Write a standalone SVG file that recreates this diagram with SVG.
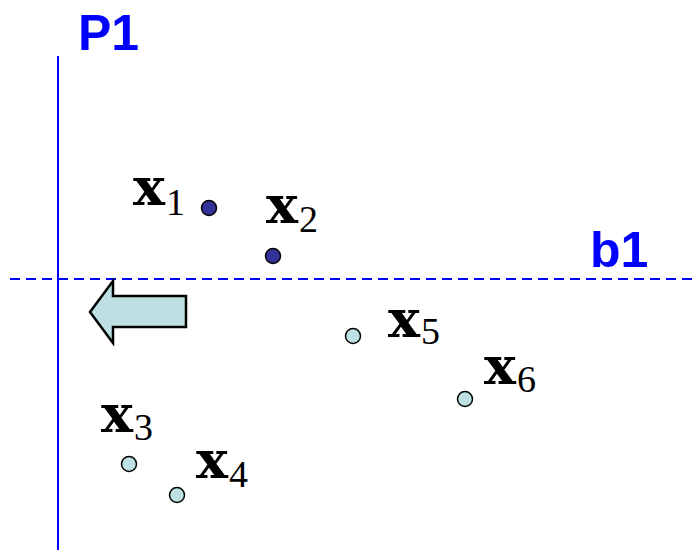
<svg xmlns="http://www.w3.org/2000/svg" width="696" height="550" viewBox="0 0 696 550">
<style>
.lbl{font-family:"Liberation Sans",Arial,sans-serif;font-weight:bold;font-size:50px;fill:#0000ff}
.v{font-family:"DejaVu Serif","Liberation Serif",serif;font-weight:bold;font-size:52px;fill:#000}
.s{font-family:"Liberation Serif",serif;font-size:38px;fill:#000}
.dk{fill:#333399;stroke:#000;stroke-width:1.5}
.lt{fill:#bde0e2;stroke:#000;stroke-width:1.5}
</style>
<rect width="696" height="550" fill="#fff"/>
<g id="connectors">
<line x1="58" y1="56" x2="58" y2="550" stroke="#0000ff" stroke-width="2"/>
<line x1="10" y1="279" x2="696" y2="279" stroke="#0000ff" stroke-width="2" stroke-dasharray="10,6"/>
</g>
<g id="P1"><text class="lbl" x="78" y="50">P1</text></g>
<g id="b1"><text class="lbl" x="590" y="267">b1</text></g>
<g id="arrow"><polygon points="90,312 113,281 113,296 186,296 186,327 113,327 113,343" fill="#bde0e2" stroke="#000" stroke-width="2.5"/></g>
<g id="x1"><circle class="dk" cx="209" cy="208" r="7.5"/><text class="v" x="133" y="205" textLength="32" lengthAdjust="spacingAndGlyphs">x</text><text class="s" x="166" y="215">1</text></g>
<g id="x2"><circle class="dk" cx="273" cy="256" r="7.5"/><text class="v" x="266" y="223" textLength="32" lengthAdjust="spacingAndGlyphs">x</text><text class="s" x="299" y="232">2</text></g>
<g id="x3"><circle class="lt" cx="129" cy="464" r="7.5"/><text class="v" x="101" y="432" textLength="32" lengthAdjust="spacingAndGlyphs">x</text><text class="s" x="134" y="440">3</text></g>
<g id="x4"><circle class="lt" cx="177" cy="495" r="7.5"/><text class="v" x="196" y="478" textLength="32" lengthAdjust="spacingAndGlyphs">x</text><text class="s" x="229" y="487">4</text></g>
<g id="x5"><circle class="lt" cx="353" cy="336" r="7.5"/><text class="v" x="388" y="337" textLength="32" lengthAdjust="spacingAndGlyphs">x</text><text class="s" x="421" y="344">5</text></g>
<g id="x6"><circle class="lt" cx="465" cy="399" r="7.5"/><text class="v" x="484" y="384" textLength="32" lengthAdjust="spacingAndGlyphs">x</text><text class="s" x="517" y="392">6</text></g>
</svg>
